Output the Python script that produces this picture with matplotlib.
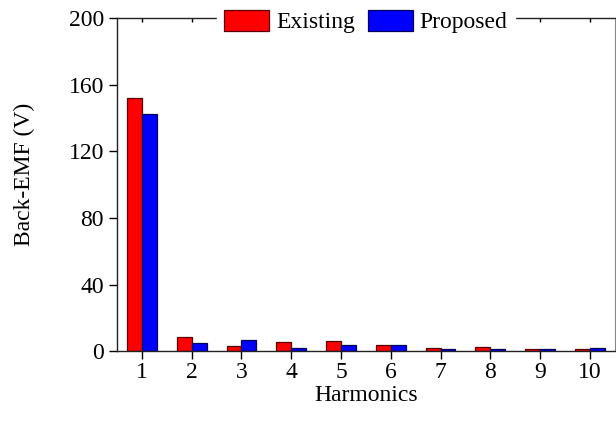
import matplotlib
matplotlib.use("Agg")
import matplotlib.pyplot as plt
import numpy as np

plt.rcParams['font.family'] = ['Liberation Serif', 'DejaVu Serif']

harmonics = [1, 2, 3, 4, 5, 6, 7, 8, 9, 10]
existing = [152, 8.3, 2.9, 5.7, 6.2, 3.7, 1.9, 2.5, 1.5, 1.5]
proposed = [142.5, 5.1, 6.7, 2.1, 3.7, 3.7, 1.3, 1.1, 1.5, 2.1]
yticks = [0, 40, 80, 120, 160, 200]

FS = 17

fig = plt.figure(figsize=(6.16, 4.21), dpi=100)
ax = fig.add_axes([0.19, 0.166, 0.808, 0.791])

x = np.array(harmonics)
w = 0.3
ax.bar(x - w / 2, existing, width=w, color='#ff0000', edgecolor='#5a0000',
       linewidth=0.9, label='Existing')
ax.bar(x + w / 2, proposed, width=w, color='#0000ff', edgecolor='#00005a',
       linewidth=0.9, label='Proposed')

ax.set_xlim(0.5, 10.5)
ax.set_ylim(0, 200)
ax.set_xticks(harmonics)
ax.set_yticks(yticks)
ax.tick_params(axis='both', labelsize=FS, direction='out', length=6, width=1)
ax.tick_params(axis='x', top=True, labeltop=False, pad=2)
for t in ax.xaxis.get_major_ticks():
    t.tick2line.set_markersize(3)
    t.tick2line.set_marker(3)

for s in ['left', 'bottom', 'top']:
    ax.spines[s].set_linewidth(1.0)
    ax.spines[s].set_color('#222222')
ax.spines['right'].set_color('#888888')

ax.set_xlabel('Harmonics', fontsize=FS, labelpad=1)
ax.set_ylabel('Back-EMF (V)', fontsize=FS)
ax.yaxis.set_label_coords(-0.165, 0.53)

leg = ax.legend(loc='center', bbox_to_anchor=(0.5, 0.99), ncol=2, frameon=True,
                fontsize=FS, handlelength=1.9, handleheight=1.0,
                handletextpad=0.3, columnspacing=0.55, borderpad=0.3)
leg.get_frame().set_edgecolor('white')
leg.get_frame().set_facecolor('white')
leg.get_frame().set_alpha(1.0)
leg.get_frame().set_boxstyle('square', pad=0.0)

fig.savefig('out.png', dpi=100)
